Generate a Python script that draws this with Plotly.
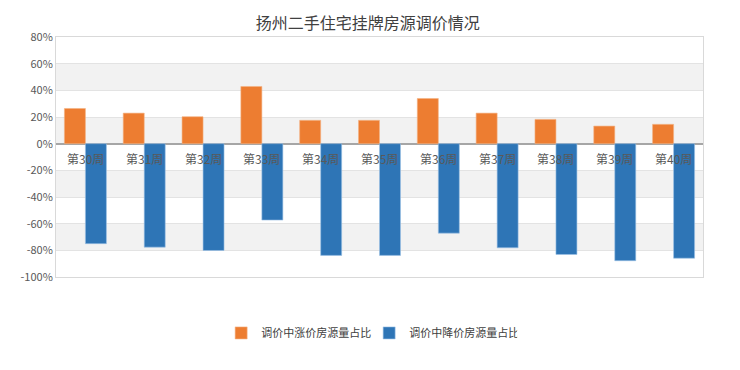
import plotly.graph_objects as go

categories = ["第30周", "第31周", "第32周", "第33周", "第34周", "第35周",
              "第36周", "第37周", "第38周", "第39周", "第40周"]
up_share = [0.264, 0.229, 0.202, 0.429, 0.175, 0.175, 0.339, 0.229, 0.182, 0.132, 0.145]
down_share = [-0.750, -0.776, -0.801, -0.573, -0.838, -0.838, -0.671, -0.781, -0.831, -0.878, -0.859]
series_names = ["调价中涨价房源量占比", "调价中降价房源量占比"]
y_ticks = [0.8, 0.6, 0.4, 0.2, 0.0, -0.2, -0.4, -0.6, -0.8, -1.0]
y_tick_text = ["80%", "60%", "40%", "20%", "0%", "-20%", "-40%", "-60%", "-80%", "-100%"]
gray_bands = [(0.4, 0.6), (0.0, 0.2), (-0.4, -0.2), (-0.8, -0.6)]

FONT = "Noto Sans CJK SC"

fig = go.Figure()
fig.add_trace(go.Bar(x=categories, y=up_share, name=series_names[0],
                     marker=dict(color="#ED7D31", line=dict(color="#F4B183", width=0.6))))
fig.add_trace(go.Bar(x=categories, y=down_share, name=series_names[1],
                     marker=dict(color="#2E75B6", line=dict(color="#9DC3E6", width=0.6))))

for lo, hi in gray_bands:
    fig.add_shape(type="rect", xref="paper", yref="y", x0=0, x1=1, y0=lo, y1=hi,
                  fillcolor="#F2F2F2", line=dict(width=0), layer="below")

for c in categories:
    fig.add_annotation(x=c, y=0, xref="x", yref="y", text=c, showarrow=False,
                       yanchor="top", yshift=-4,
                       font=dict(family=FONT, size=12, color="#595959"))

fig.update_layout(
    width=740, height=370,
    margin=dict(l=48, r=45, t=29, b=101),
    paper_bgcolor="white", plot_bgcolor="white",
    barmode="group", bargap=0.286, bargroupgap=0,
    title=dict(text="扬州二手住宅挂牌房源调价情况", x=0.486, xanchor="center",
               y=0.958, yanchor="middle",
               font=dict(family=FONT, size=16, color="#404040")),
    legend=dict(orientation="h", x=0.484, xanchor="center", y=-0.233, yanchor="middle",
                font=dict(family=FONT, size=11, color="#404040"),
                itemwidth=30, traceorder="normal", entrywidth=103),
    font=dict(family=FONT),
)
fig.update_xaxes(showticklabels=False, showgrid=False, showline=True, mirror=True,
                 linecolor="#D9D9D9", linewidth=1, ticks="")
fig.update_yaxes(range=[-1.0, 0.8], tickvals=y_ticks, ticktext=y_tick_text,
                 showgrid=True, gridcolor="#E3E3E3", gridwidth=1,
                 zeroline=True, zerolinecolor="#A6A6A6", zerolinewidth=1.5,
                 showline=True, mirror=True, linecolor="#D9D9D9", linewidth=1,
                 tickfont=dict(family=FONT, size=11, color="#595959"),
                 ticks="", ticklen=0)

fig.write_html("out.html")
